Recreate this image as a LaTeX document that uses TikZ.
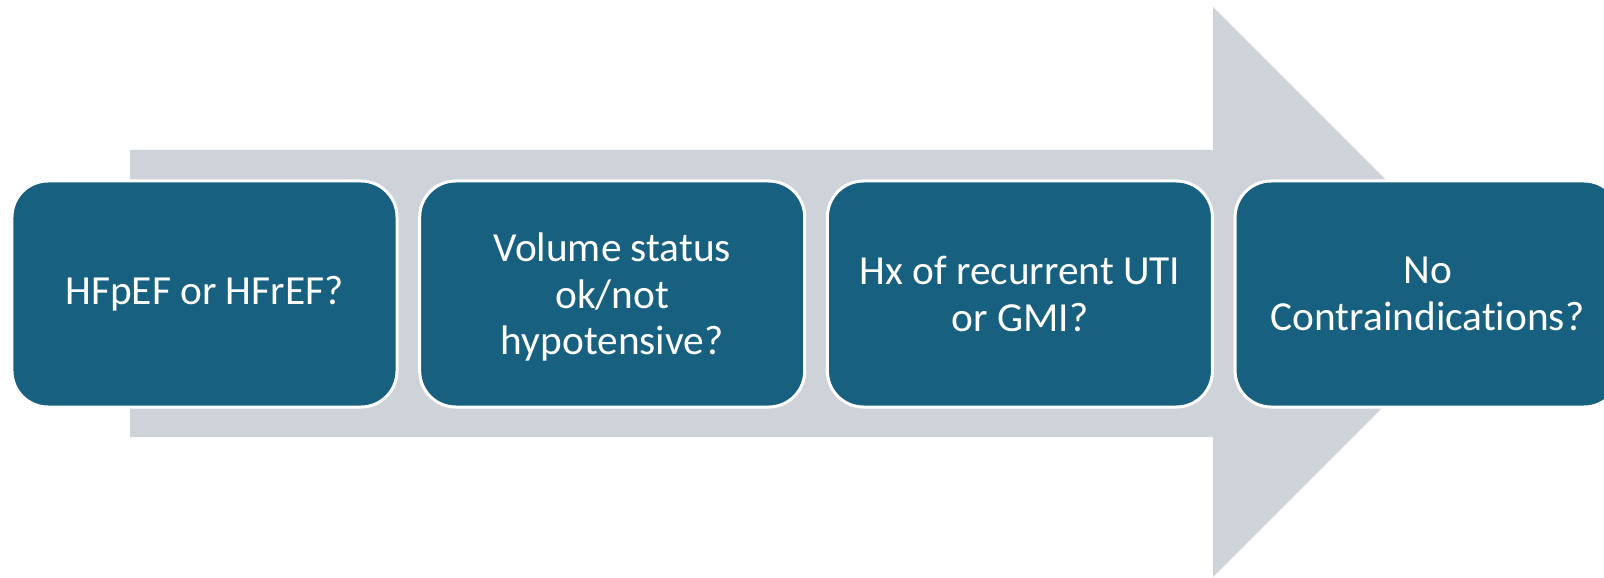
\documentclass[tikz,border=0pt]{standalone}
\usepackage{fontspec}
\setmainfont{Carlito}[Ligatures={NoCommon}]
\definecolor{stepblue}{RGB}{24,96,128}
\definecolor{arrowgray}{RGB}{206,211,217}
\begin{document}
\begin{tikzpicture}[x=1bp,y=-1bp,
  stepbox/.style={draw=white, line width=3bp, fill=stepblue, rounded corners=36bp,
    minimum width=385bp, minimum height=226bp, inner sep=0pt, outer sep=0pt,
    text=white, align=center, font=\fontsize{41.5}{46.7}\selectfont}]
  \useasboundingbox (0,0) rectangle (1604,578);
  \clip (0,0) rectangle (1604,578);
  % broad grey arrow in the background
  \fill[arrowgray] (130,150) -- (1213,150) -- (1213,7) -- (1498,292)
    -- (1213,577) -- (1213,437) -- (130,437) -- cycle;
  % the four steps
  \node[stepbox] (s1) at (204.5,294) {HFpEF or HFrEF?};
  \node[stepbox] (s2) at (612.2,294) {Volume status\\ok/not\\\raisebox{0pt}[\height][0pt]{hypotensive?}};
  \node[stepbox] (s3) at (1019.9,294) {Hx of recurrent UTI\\or GMI?};
  \node[stepbox] (s4) at (1427.6,294) {No\\Contraindications?};
\end{tikzpicture}
\end{document}
